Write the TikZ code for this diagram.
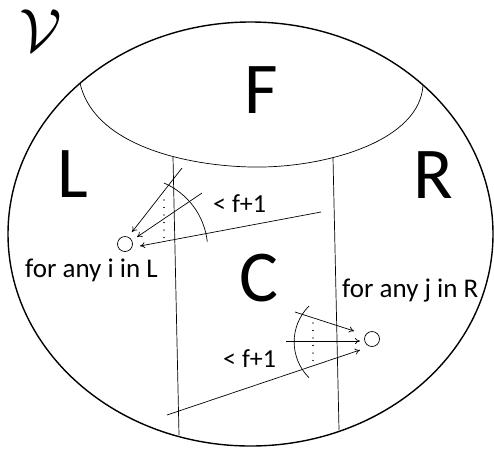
\documentclass[tikz,border=0pt]{standalone}
\usepackage{fontspec}
\setmainfont{Carlito}
\usetikzlibrary{arrows.meta}
\begin{document}
\begin{tikzpicture}[x=1pt,y=-1pt,
  big/.style={font=\fontsize{73}{80}\selectfont, inner sep=0pt, anchor=base},
  small/.style={font=\fontsize{27}{30}\selectfont, inner sep=0pt, anchor=base west},
  lbl/.style={font=\fontsize{26}{30}\selectfont, inner sep=0pt, anchor=base west},
  thin/.style={line width=0.7pt},
  arr/.style={thin, -{To[length=5pt,width=6pt]}},
  pt/.style={circle, draw, thin, minimum size=15pt, inner sep=0pt},
  dotline/.style={line width=1.2pt, dash pattern=on 0.01pt off 7.5pt, line cap=round}]
\useasboundingbox (0,0) rectangle (494,451);
% outer ellipse
\draw[line width=1.4pt] (250.5,234) ellipse [x radius=242.5, y radius=212];
% F region
\draw[thin] (80,83) .. controls (95,150) and (200,168) .. (262,167)
            .. controls (330,166) and (420,140) .. (423,85);
% vertical lines
\draw[thin] (173,157) -- (179,435);
\draw[thin] (333,158) -- (339,430);
% letters
\node[big] (F) at (261.5,113) {F};
\node[big] (L) at (73,197) {L};
\node[big] (R) at (433.5,198) {R};
\node[big] (C) at (258.5,301) {C};
\node[scale=6.1, inner sep=0pt, anchor=base west] (V) at (18,51) {$\mathcal{V}$};
% node i
\node[pt] (i) at (125,244) {};
\node[small] (ti) at (25,277) {for any i in L};
\coordinate (a1) at (182,168);
\coordinate (a2) at (202,193);
\coordinate (a3) at (321,212);
\draw[arr] (a1) -- (132,232);
\draw[arr] (a2) -- (137,237);
\draw[arr] (a3) -- (140,246);
\draw[thin] (164,183) arc[start angle=-66.6, end angle=-6.3, radius=72.5];
\draw[dotline] (164,200) -- (164,238);
\node[lbl] (li) at (213,212) {< f+1};
% node j
\node[pt] (j) at (372,339) {};
\node[small] (tj) at (342,297) {for any j in R};
\coordinate (b1) at (295,312);
\coordinate (b2) at (286,341);
\coordinate (b3) at (167,415);
\draw[arr] (b1) -- (354,331);
\draw[arr] (b2) -- (360,341);
\draw[arr] (b3) -- (360,350);
\draw[thin] (309,306) arc[start angle=225, end angle=135, radius=50.7];
\draw[dotline] (313,323) -- (313,361);
\node[lbl] (lj) at (223,367) {< f+1};
\end{tikzpicture}
\end{document}
